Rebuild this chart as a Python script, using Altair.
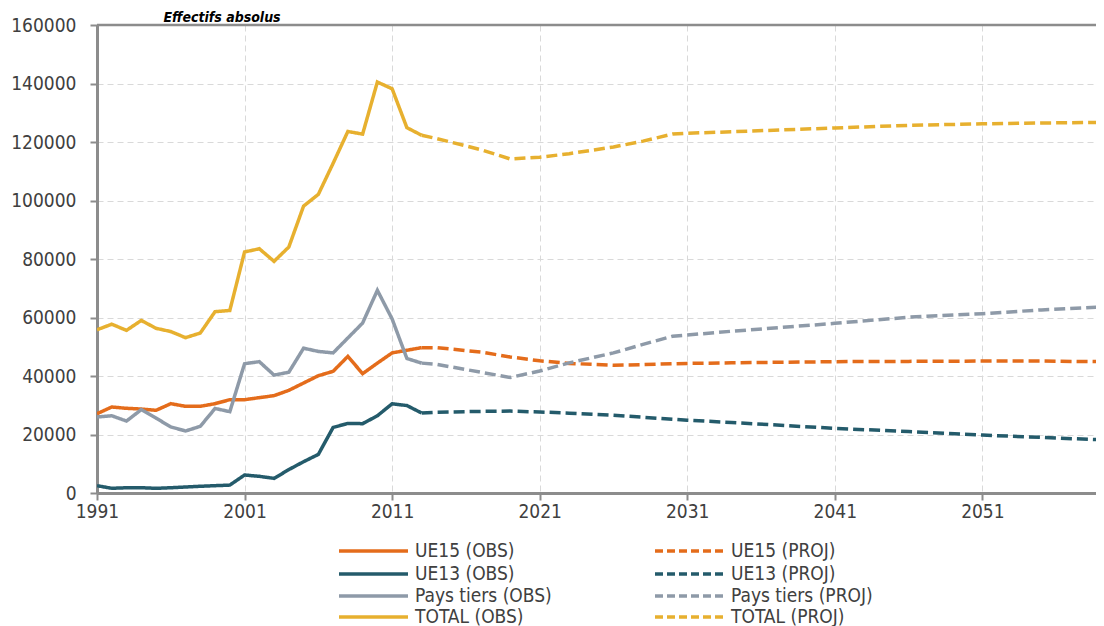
import altair as alt
import pandas as pd

FONT = "DejaVu Sans Condensed, Roboto, sans-serif"

# ---- observed data (1991-2013) ----
obs_years = list(range(1991, 2014))
ue15_obs = [27100, 29400, 28950, 28700, 28260, 30540, 29630, 29630, 30540, 31900,
            31900, 32600, 33280, 35100, 37600, 40100, 41600, 46700, 40800, 44400,
            47900, 48800, 49700]
ue13_obs = [2500, 1600, 1800, 1800, 1600, 1800, 2050, 2300, 2500, 2700,
            6150, 5700, 5000, 8000, 10700, 13200, 22400, 23800, 23700, 26400,
            30500, 29900, 27350]
tiers_obs = [26000, 26400, 24600, 28500, 25600, 22600, 21200, 22800, 28900, 27800,
             44200, 44900, 40300, 41300, 49500, 48400, 47900, 53000, 58100, 69300,
             59500, 46000, 44400]
total_obs = [55800, 57700, 55600, 59000, 56300, 55200, 53100, 54700, 62000, 62400,
             82400, 83500, 79200, 84100, 98100, 102100, 112700, 123600, 122700, 140500,
             138200, 124900, 122300]

# ---- projections ----
proj_years = [2013, 2014, 2017, 2019, 2021, 2023, 2026, 2028, 2030, 2031, 2034, 2041, 2046, 2051, 2055, 2059]
ue15_proj = [49700, 49700, 48200, 46500, 45200, 44300, 43700, 43900, 44200, 44300, 44500, 44900, 45000, 45100, 45100, 44900]
ue13_proj = [27350, 27600, 27900, 28000, 27700, 27300, 26600, 25900, 25200, 24900, 24100, 22100, 21000, 19800, 19000, 18200]
tiers_proj = [44400, 44000, 41300, 39500, 41700, 44500, 47900, 50800, 53600, 54000, 55300, 58000, 60100, 61300, 62600, 63600]
total_proj = [122300, 121200, 117400, 114200, 114800, 116000, 118300, 120300, 122700, 123000, 123500, 124800, 125700, 126200, 126500, 126700]

series_names = ["UE15", "UE13", "Pays tiers", "TOTAL"]
series_colors = ["#E46C1B", "#245B6B", "#8E9AA8", "#E7B02F"]
obs_values = [ue15_obs, ue13_obs, tiers_obs, total_obs]
proj_values = [ue15_proj, ue13_proj, tiers_proj, total_proj]

x_ticks = [1991, 2001, 2011, 2021, 2031, 2041, 2051]
y_ticks = [0, 20000, 40000, 60000, 80000, 100000, 120000, 140000, 160000]
title_text = "Effectifs absolus"

PROJ_DASH = [11, 5]
LEGEND_DASH = [8, 4]

rows = []
for name, vals in zip(series_names, obs_values):
    for yr, v in zip(obs_years, vals):
        rows.append({"annee": yr, "valeur": v, "serie": f"{name} (OBS)"})
for name, vals in zip(series_names, proj_values):
    for yr, v in zip(proj_years, vals):
        rows.append({"annee": yr, "valeur": v, "serie": f"{name} (PROJ)"})
df = pd.DataFrame(rows)

domain, colors, dashes = [], [], []
for name, col in zip(series_names, series_colors):
    domain += [f"{name} (OBS)", f"{name} (PROJ)"]
    colors += [col, col]
    dashes += [[1, 0], PROJ_DASH]

x_enc = alt.X(
    "annee:Q",
    scale=alt.Scale(domain=[1991, 2058.7], nice=False, zero=False),
    axis=alt.Axis(
        values=x_ticks, format="d", title=None, tickSize=7, tickWidth=2,
        tickColor="#8c8c8c", domainColor="#8c8c8c", domainWidth=3,
        labelFont=FONT, labelFontSize=19, labelColor="#404040", labelPadding=2,
        gridColor="#d9d9d9", gridDash=[6, 4], gridWidth=1, labelFlush=False,
    ),
)
y_enc = alt.Y(
    "valeur:Q",
    scale=alt.Scale(domain=[0, 160000], nice=False),
    axis=alt.Axis(
        values=y_ticks, format="d", title=None, tickSize=7, tickWidth=2,
        tickColor="#8c8c8c", domainColor="#8c8c8c", domainWidth=3,
        labelFont=FONT, labelFontSize=19, labelColor="#404040", labelPadding=14,
        gridColor="#d9d9d9", gridDash=[6, 4], gridWidth=1,
    ),
)

lines = alt.Chart(df).mark_line(strokeWidth=3.5, clip=True).encode(
    x=x_enc,
    y=y_enc,
    color=alt.Color("serie:N", scale=alt.Scale(domain=domain, range=colors), legend=None),
    strokeDash=alt.StrokeDash("serie:N", scale=alt.Scale(domain=domain, range=dashes), legend=None),
    order=alt.Order("annee:Q"),
)

top_rule = alt.Chart(pd.DataFrame({"v": [160000]})).mark_rule(
    color="#8c8c8c", strokeWidth=2.5
).encode(y=alt.Y("v:Q"))

one = pd.DataFrame({"k": [0]})

title = alt.Chart(one).mark_text(
    font=FONT, fontSize=14, fontWeight="bold", fontStyle="italic",
    color="#000000", align="center", baseline="alphabetic",
).encode(text=alt.value(title_text), x=alt.value(125), y=alt.value(-3))

# ---- manual legend (two columns, four rows) below the plot ----
LEG_ROW_Y = [526, 549, 571, 592]      # pixel rows relative to plot top
LEG_COL_X = [242, 558]                # symbol start per column
SYM_LEN = 69
LABEL_GAP = 7

legend_layers = []
for r, (name, col) in enumerate(zip(series_names, series_colors)):
    for c, (kind, dash) in enumerate([("OBS", None), ("PROJ", LEGEND_DASH)]):
        x0 = LEG_COL_X[c]
        y0 = LEG_ROW_Y[r]
        rule_kwargs = dict(color=col, strokeWidth=3.5)
        if dash is not None:
            rule_kwargs["strokeDash"] = dash
        legend_layers.append(
            alt.Chart(one).mark_rule(**rule_kwargs).encode(
                x=alt.value(x0), x2=alt.value(x0 + SYM_LEN), y=alt.value(y0)
            )
        )
        legend_layers.append(
            alt.Chart(one).mark_text(
                font=FONT, fontSize=19, color="#404040", align="left", baseline="middle"
            ).encode(
                text=alt.value(f"{name} ({kind})"),
                x=alt.value(x0 + SYM_LEN + LABEL_GAP), y=alt.value(y0),
            )
        )

chart = alt.layer(top_rule, lines, title, *legend_layers).properties(
    width=999, height=468,
    autosize=alt.AutoSizeParams(type="none"),
    padding={"left": 89, "top": 17, "right": 0, "bottom": 133},
).configure_view(stroke=None)

chart.save("out.html", embed_options={"renderer": "svg", "actions": False})
